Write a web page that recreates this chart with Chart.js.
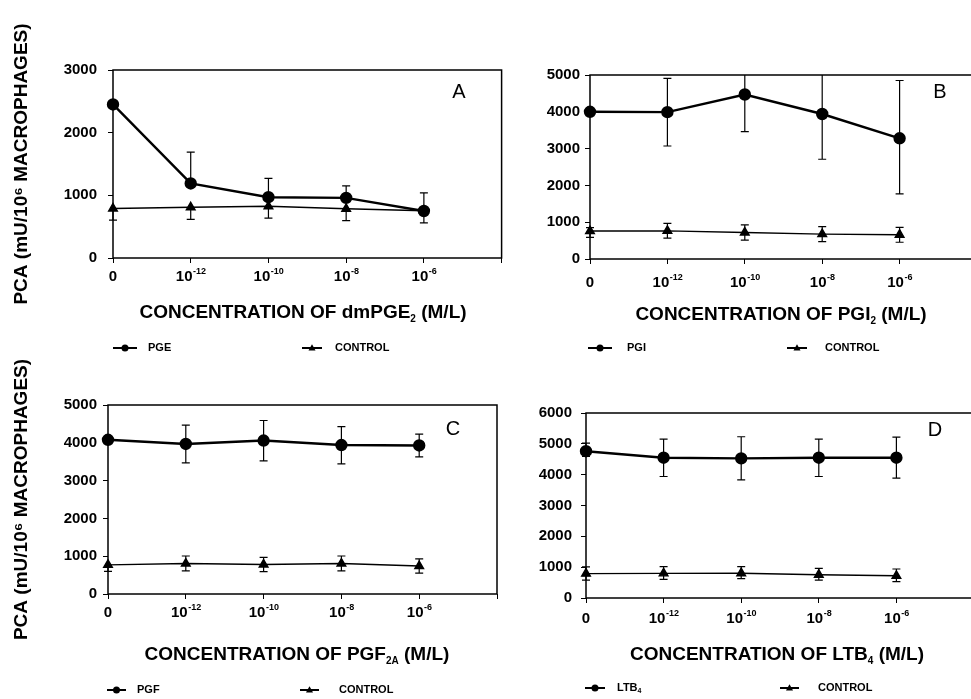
<!DOCTYPE html>
<html>
<head>
<meta charset="utf-8">
<script src="https://cdn.jsdelivr.net/npm/chart.js@4.4.1/dist/chart.umd.min.js"></script>
<style>
html, body { margin: 0; padding: 0; background: #fff; width: 971px; height: 699px; overflow: hidden; }
canvas { position: absolute; }
</style>
</head>
<body>
<canvas id="cA" width="509" height="362" style="left:0;top:0"></canvas>
<canvas id="cB" width="495" height="362" style="left:505px;top:0"></canvas>
<canvas id="cC" width="505" height="349" style="left:0;top:350px"></canvas>
<canvas id="cD" width="495" height="349" style="left:505px;top:350px"></canvas>
<script>
// categories (concentration) and tick labels : base + exponent
const xPos = [0, 1, 2, 3, 4]
const xBase = ['0', '10', '10', '10', '10']
const xExp = ['', '-12', '-10', '-8', '-6']

// panel A : dmPGE2
const pgeMean = [2450, 1190, 970, 960, 750]
const pgeHi = [null, 1690, 1270, 1150, 1040]
const pgeLo = [null, null, null, null, null]
const ctrlAMean = [790, 810, 825, 785, 755]
const ctrlAHi = [null, null, null, null, null]
const ctrlALo = [605, 615, 635, 595, 560]

// panel B : PGI2
const pgiMean = [4000, 3990, 4470, 3940, 3280]
const pgiHi = [null, 4910, 5490, 5170, 4850]
const pgiLo = [null, 3070, 3460, 2710, 1770]
const ctrlBMean = [760, 765, 720, 675, 660]
const ctrlBHi = [850, 970, 925, 880, 860]
const ctrlBLo = [590, 565, 515, 470, 455]

// panel C : PGF2A
const pgfMean = [4080, 3970, 4060, 3940, 3930]
const pgfHi = [null, 4470, 4590, 4430, 4230]
const pgfLo = [null, 3470, 3520, 3440, 3630]
const ctrlCMean = [770, 805, 780, 805, 740]
const ctrlCHi = [null, 1005, 970, 1005, 930]
const ctrlCLo = [600, 610, 590, 610, 550]

// panel D : LTB4
const ltbMean = [4760, 4550, 4530, 4550, 4550]
const ltbHi = [5020, 5150, 5230, 5150, 5220]
const ltbLo = [4590, 3940, 3830, 3940, 3890]
const ctrlDMean = [790, 800, 805, 755, 720]
const ctrlDHi = [1010, 1015, 1015, 960, 940]
const ctrlDLo = [580, 605, 630, 580, 530]

const FONT = "'Liberation Sans', Arial, Helvetica, sans-serif"
Chart.defaults.font.family = FONT
Chart.defaults.color = '#000'

// text with subscripts, centred on cx
function drawRich(ctx, parts, cx, cy, size) {
  ctx.textBaseline = 'middle'
  ctx.textAlign = 'left'
  let w = 0
  parts.forEach(p => {
    ctx.font = 'bold ' + (p.sub ? Math.round(size * 0.55) : size) + 'px ' + FONT
    w += ctx.measureText(p.t).width
  })
  let x = cx - w / 2
  parts.forEach(p => {
    ctx.font = 'bold ' + (p.sub ? Math.round(size * 0.55) : size) + 'px ' + FONT
    ctx.fillText(p.t, x, cy + (p.sub ? size * 0.32 : 0))
    x += ctx.measureText(p.t).width
  })
}

function marker(ctx, style, x, y, r) {
  ctx.beginPath()
  if (style === 'circle') {
    ctx.arc(x, y, r, 0, Math.PI * 2)
  } else {
    ctx.moveTo(x, y - r * 1.1)
    ctx.lineTo(x + r, y + r * 0.7)
    ctx.lineTo(x - r, y + r * 0.7)
    ctx.closePath()
  }
  ctx.fill()
}

function makeDecor(p) {
  return {
    id: 'decor',
    // error bars, under the markers
    beforeDatasetsDraw(chart) {
      const ctx = chart.ctx, a = chart.chartArea
      const xs = chart.scales.x, ys = chart.scales.y
      ctx.save()
      ctx.beginPath()
      ctx.rect(0, a.top, chart.width, chart.height)
      ctx.clip()
      ctx.strokeStyle = '#000'
      ctx.lineWidth = 1.2
      p.errors.forEach(e => {
        xPos.forEach((xv, i) => {
          const px = xs.getPixelForValue(xv)
          const py = ys.getPixelForValue(e.mean[i])
          ;[e.hi[i], e.lo[i]].forEach(v => {
            if (v == null) return
            const ey = ys.getPixelForValue(v)
            ctx.beginPath()
            ctx.moveTo(px, py)
            ctx.lineTo(px, ey)
            ctx.moveTo(px - 4, ey)
            ctx.lineTo(px + 4, ey)
            ctx.stroke()
          })
        })
      })
      ctx.restore()
    },
    afterDraw(chart) {
      const ctx = chart.ctx, a = chart.chartArea
      const xs = chart.scales.x
      ctx.save()
      ctx.strokeStyle = '#000'
      ctx.fillStyle = '#000'
      ctx.lineWidth = 1.5
      ctx.strokeRect(a.left, a.top, a.right - a.left, a.bottom - a.top)

      // x tick labels: 10 with raised exponent
      const ty = a.bottom + p.tickDy
      ctx.textBaseline = 'middle'
      ctx.textAlign = 'left'
      xPos.forEach((xv, i) => {
        ctx.font = 'bold 15px ' + FONT
        const wb = ctx.measureText(xBase[i]).width
        ctx.font = 'bold 9px ' + FONT
        const we = ctx.measureText(xExp[i]).width
        let x = xs.getPixelForValue(xv) - (wb + we) / 2
        ctx.font = 'bold 15px ' + FONT
        ctx.fillText(xBase[i], x, ty)
        ctx.font = 'bold 9px ' + FONT
        ctx.fillText(xExp[i], x + wb + 0.5, ty - 5)
      })

      // x axis title
      drawRich(ctx, p.title, p.titleXY[0], p.titleXY[1], 19)

      // legend
      p.legend.forEach(l => {
        ctx.lineWidth = 2
        ctx.beginPath()
        ctx.moveTo(l.x1, p.legendY)
        ctx.lineTo(l.x2, p.legendY)
        ctx.stroke()
        marker(ctx, l.style, (l.x1 + l.x2) / 2, p.legendY, 3.5)
        ctx.textBaseline = 'middle'
        ctx.textAlign = 'left'
        let x = l.tx
        l.text.forEach(t => {
          ctx.font = 'bold ' + (t.sub ? 7 : 11) + 'px ' + FONT
          ctx.fillText(t.t, x, p.legendY + (t.sub ? 3 : 0))
          x += ctx.measureText(t.t).width
        })
      })

      // panel letter
      ctx.font = '20px ' + FONT
      ctx.textAlign = 'center'
      ctx.textBaseline = 'middle'
      ctx.fillText(p.letter, p.letterXY[0], p.letterXY[1])
      ctx.restore()
    }
  }
}

function pts(arr) {
  return xPos.map((x, i) => ({ x: x, y: arr[i] }))
}

function makePanel(p) {
  return new Chart(document.getElementById(p.id), {
    type: 'line',
    data: {
      datasets: [
        {
          label: p.names[0],
          data: pts(p.treat),
          borderColor: '#000',
          borderWidth: 2.4,
          pointStyle: 'circle',
          pointRadius: 5,
          pointBackgroundColor: '#000',
          pointBorderColor: '#000',
          clip: false
        },
        {
          label: p.names[1],
          data: pts(p.ctrl),
          borderColor: '#000',
          borderWidth: 1.4,
          pointStyle: 'triangle',
          pointRadius: 5,
          pointBackgroundColor: '#000',
          pointBorderColor: '#000',
          clip: false
        }
      ]
    },
    options: {
      responsive: false,
      animation: false,
      events: [],
      layout: { padding: { top: p.top, right: p.right, left: 0, bottom: 0 } },
      plugins: { legend: { display: false }, tooltip: { enabled: false } },
      scales: {
        x: {
          type: 'linear',
          min: 0,
          max: 5,
          afterFit: s => { s.height = p.xH },
          border: { display: false },
          grid: { drawOnChartArea: false, tickLength: 5, color: '#000', lineWidth: 1 },
          ticks: { stepSize: 1, maxRotation: 0, autoSkip: false, callback: () => '' }
        },
        y: {
          min: 0,
          max: p.yMax,
          afterFit: s => { s.width = p.yW },
          border: { display: false },
          grid: { drawOnChartArea: false, tickLength: 5, color: '#000', lineWidth: 1 },
          ticks: {
            stepSize: 1000,
            padding: p.yPad,
            font: { size: 15, weight: 'bold' },
            callback: v => String(v)
          },
          title: {
            display: p.yTitle,
            text: 'PCA (mU/10⁶ MACROPHAGES)',
            font: { size: 19, weight: 'bold' },
            padding: { top: 10, bottom: 0 }
          }
        }
      }
    },
    plugins: [makeDecor(p)]
  })
}

makePanel({
  id: 'cA', yMax: 3000, yW: 113, top: 70, xH: 104, right: 0, yPad: 11, tickDy: 19, yTitle: true,
  treat: pgeMean, ctrl: ctrlAMean, names: ['PGE', 'CONTROL'],
  errors: [{ mean: pgeMean, hi: pgeHi, lo: pgeLo }, { mean: ctrlAMean, hi: ctrlAHi, lo: ctrlALo }],
  title: [{ t: 'CONCENTRATION OF dmPGE' }, { t: '2', sub: true }, { t: ' (M/L)' }],
  titleXY: [303, 313],
  letter: 'A', letterXY: [459, 92],
  legendY: 348,
  legend: [
    { x1: 113, x2: 137, tx: 148, style: 'circle', text: [{ t: 'PGE' }] },
    { x1: 302, x2: 322, tx: 335, style: 'triangle', text: [{ t: 'CONTROL' }] }
  ]
})

makePanel({
  id: 'cB', yMax: 5000, yW: 85, top: 75, xH: 103, right: 23, yPad: 5, tickDy: 24, yTitle: false,
  treat: pgiMean, ctrl: ctrlBMean, names: ['PGI', 'CONTROL'],
  errors: [{ mean: pgiMean, hi: pgiHi, lo: pgiLo }, { mean: ctrlBMean, hi: ctrlBHi, lo: ctrlBLo }],
  title: [{ t: 'CONCENTRATION OF PGI' }, { t: '2', sub: true }, { t: ' (M/L)' }],
  titleXY: [276, 315],
  letter: 'B', letterXY: [435, 92],
  legendY: 348,
  legend: [
    { x1: 83, x2: 107, tx: 122, style: 'circle', text: [{ t: 'PGI' }] },
    { x1: 282, x2: 302, tx: 320, style: 'triangle', text: [{ t: 'CONTROL' }] }
  ]
})

makePanel({
  id: 'cC', yMax: 5000, yW: 108, top: 55, xH: 105, right: 8, yPad: 6, tickDy: 19, yTitle: true,
  treat: pgfMean, ctrl: ctrlCMean, names: ['PGF', 'CONTROL'],
  errors: [{ mean: pgfMean, hi: pgfHi, lo: pgfLo }, { mean: ctrlCMean, hi: ctrlCHi, lo: ctrlCLo }],
  title: [{ t: 'CONCENTRATION OF PGF' }, { t: '2A', sub: true }, { t: ' (M/L)' }],
  titleXY: [297, 305],
  letter: 'C', letterXY: [453, 79],
  legendY: 340,
  legend: [
    { x1: 107, x2: 126, tx: 137, style: 'circle', text: [{ t: 'PGF' }] },
    { x1: 300, x2: 319, tx: 339, style: 'triangle', text: [{ t: 'CONTROL' }] }
  ]
})

makePanel({
  id: 'cD', yMax: 6000, yW: 81, top: 63, xH: 101, right: 26, yPad: 9, tickDy: 21, yTitle: false,
  treat: ltbMean, ctrl: ctrlDMean, names: ['LTB4', 'CONTROL'],
  errors: [{ mean: ltbMean, hi: ltbHi, lo: ltbLo }, { mean: ctrlDMean, hi: ctrlDHi, lo: ctrlDLo }],
  title: [{ t: 'CONCENTRATION OF LTB' }, { t: '4', sub: true }, { t: ' (M/L)' }],
  titleXY: [272, 305],
  letter: 'D', letterXY: [430, 80],
  legendY: 338,
  legend: [
    { x1: 80, x2: 100, tx: 112, style: 'circle', text: [{ t: 'LTB' }, { t: '4', sub: true }] },
    { x1: 275, x2: 294, tx: 313, style: 'triangle', text: [{ t: 'CONTROL' }] }
  ]
})
</script>
</body>
</html>
